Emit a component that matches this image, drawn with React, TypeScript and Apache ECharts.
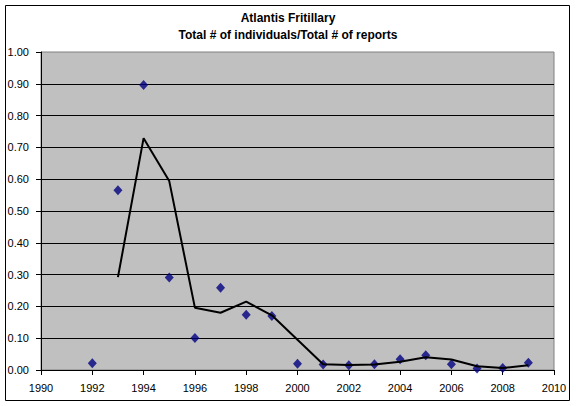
import React, { useEffect, useRef } from "react";
import * as echarts from "echarts";

const years = [1992, 1993, 1994, 1995, 1996, 1997, 1998, 1999, 2000, 2001, 2002, 2003, 2004, 2005, 2006, 2007, 2008, 2009];
const ratios = [0.021, 0.565, 0.896, 0.291, 0.101, 0.259, 0.174, 0.17, 0.02, 0.017, 0.015, 0.018, 0.034, 0.046, 0.018, 0.005, 0.006, 0.023];
const trendYears = [1993, 1994, 1995, 1996, 1997, 1998, 1999, 2000, 2001, 2002, 2003, 2004, 2005, 2006, 2007, 2008, 2009];
const trendValues = [0.292, 0.729, 0.594, 0.196, 0.18, 0.215, 0.172, 0.095, 0.018, 0.016, 0.017, 0.026, 0.04, 0.033, 0.012, 0.006, 0.015];
const titleLines = ["Atlantis Fritillary", "Total # of individuals/Total # of reports"];

const FONT = "'Liberation Sans', Arial, sans-serif";

export default function App() {
  const ref = useRef<HTMLDivElement>(null);
  useEffect(() => {
    if (!ref.current) return;
    const chart = echarts.init(ref.current, undefined, { renderer: "svg" });
    chart.setOption({
      animation: false,
      backgroundColor: "#ffffff",
      title: {
        text: titleLines.join("\n"),
        left: "center",
        top: 4,
        textStyle: { fontSize: 12, fontWeight: "bold", color: "#000", fontFamily: FONT, lineHeight: 17 },
      },
      graphic: [
        {
          type: "rect",
          shape: { x: 5.5, y: 5.5, width: 564, height: 395 },
          style: { fill: "none", stroke: "#000", lineWidth: 1 },
          silent: true,
          z: 100,
        },
      ],
      grid: {
        left: 41,
        right: 22,
        top: 52,
        bottom: 36,
        show: true,
        backgroundColor: "#C0C0C0",
        borderColor: "#808080",
        borderWidth: 1,
      },
      xAxis: {
        type: "value",
        min: 1990,
        max: 2010,
        interval: 2,
        axisLine: { show: true, lineStyle: { color: "#000", width: 1 } },
        axisTick: { show: true, inside: false, length: 5, lineStyle: { color: "#000" } },
        splitLine: { show: false },
        axisLabel: { color: "#000", fontSize: 11, fontFamily: FONT, margin: 12, formatter: (v: number) => String(v) },
      },
      yAxis: {
        type: "value",
        min: 0,
        max: 1,
        interval: 0.1,
        axisLine: { show: true, lineStyle: { color: "#000", width: 1 } },
        axisTick: { show: true, inside: false, length: 5, lineStyle: { color: "#000" } },
        splitLine: { show: true, showMaxLine: false, lineStyle: { color: "#000", width: 1 } },
        axisLabel: { color: "#000", fontSize: 11, fontFamily: FONT, margin: 12, formatter: (v: number) => v.toFixed(2) },
      },
      series: [
        {
          type: "scatter",
          data: years.map((y, i) => [y, ratios[i]]),
          symbol: "diamond",
          symbolSize: [9, 10],
          itemStyle: { color: "#000080" },
          z: 2,
        },
        {
          type: "line",
          data: trendYears.map((y, i) => [y, trendValues[i]]),
          symbol: "none",
          lineStyle: { color: "#000", width: 2 },
          z: 3,
        },
      ],
    });
    return () => chart.dispose();
  }, []);
  return <div ref={ref} style={{ position: "fixed", left: 0, top: 0, width: 576, height: 406 }} />;
}
